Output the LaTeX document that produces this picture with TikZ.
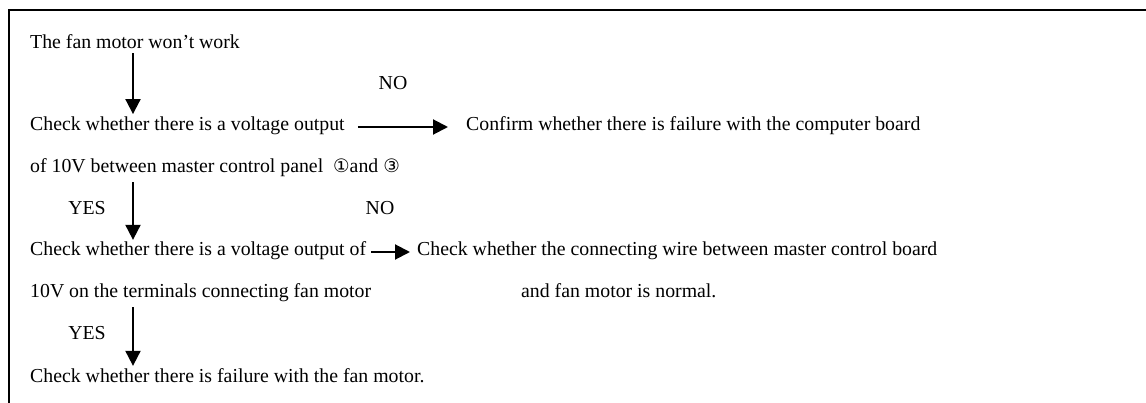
\documentclass[tikz,border=0pt]{standalone}
\usepackage{fontspec}
\setmainfont{Liberation Serif}
\newfontfamily\circfont{DejaVu Sans}
\usetikzlibrary{arrows.meta,positioning}

\newcommand{\circnum}[1]{{\circfont\fontsize{18.5}{18.5}\selectfont #1}}

\begin{document}
\begin{tikzpicture}[
  x=1pt, y=-1pt,
  txt/.style={anchor=base west, inner sep=0pt, font=\fontsize{19.8}{22}\selectfont},
  lbl/.style={anchor=base, inner sep=0pt, font=\fontsize{19.8}{22}\selectfont},
  arr/.style={-{Triangle[width=15pt,length=15pt]}, line width=2pt}
]
  \useasboundingbox (0,0) rectangle (1146,403);
  \draw[line width=2pt] (9,403) -- (9,10) -- (1146,10);

  % left column of checks
  \coordinate (xa) at (133,0);
  \node[txt] (start) at (30,49)  {The fan motor won’t work};
  \node[txt] (volt)  at (30,131) {Check whether there is a voltage output};
  \node[txt] (volt2) at (30,173) {of 10V between master control panel \ \circnum{①}and \circnum{③}};
  \node[txt] (term)  at (30,256) {Check whether there is a voltage output of};
  \node[txt] (term2) at (30,298) {10V on the terminals connecting fan motor};
  \node[txt] (motor) at (30,382) {Check whether there is failure with the fan motor.};

  % right column
  \node[txt] (board) at (466,131) {Confirm whether there is failure with the computer board};
  \node[txt] (wire)  at (417,256) {Check whether the connecting wire between master control board};
  \node[txt] (wire2) at (521,298) {and fan motor is normal.};

  % answers
  \node[lbl] (no1)  at (393,90)  {NO};
  \node[lbl] (yes1) at (87,215)  {YES};
  \node[lbl] (no2)  at (380,215) {NO};
  \node[lbl] (yes2) at (87,340)  {YES};

  \draw[arr, shorten <=4pt, shorten >=3pt] (start.south -| xa) -- (volt.north -| xa);
  \draw[arr, shorten <=5pt, shorten >=2pt] (volt2.south -| xa) -- (term.north -| xa);
  \draw[arr, shorten <=5pt, shorten >=2pt] (term2.south -| xa) -- (motor.north -| xa);
  \draw[arr, shorten <=13pt, shorten >=18pt] ([yshift=4pt]volt.base east) -- ([yshift=4pt]board.base west);
  \draw[arr, shorten <=5pt, shorten >=7pt] ([yshift=4pt]term.base east) -- ([yshift=4pt]wire.base west);
\end{tikzpicture}
\end{document}
